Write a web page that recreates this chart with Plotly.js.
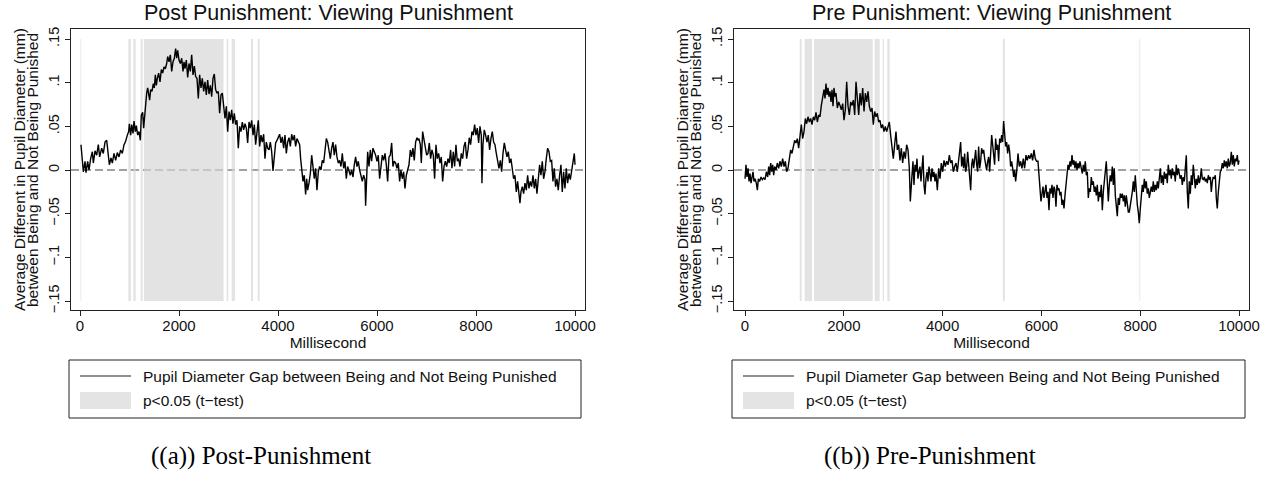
<!DOCTYPE html>
<html>
<head>
<meta charset="utf-8">
<script src="https://cdn.plot.ly/plotly-3.0.1.min.js"></script>
<style>html,body{margin:0;padding:0;background:#fff;}#chart{width:1270px;height:481px;}</style>
</head>
<body>
<div id="chart"></div>
<script>
// ---- DATA ----
const xTickVals = [0, 2000, 4000, 6000, 8000, 10000];
const xTickText = ['0', '2000', '4000', '6000', '8000', '10000'];
const yTickVals = [0.15, 0.1, 0.05, 0, -0.05, -0.1, -0.15];
const yTickText = ['.15', '.1', '.05', '0', '\u2212.05', '\u2212.1', '\u2212.15'];

const panelTitles = ['Post Punishment: Viewing Punishment', 'Pre Punishment: Viewing Punishment'];
const panelCaptions = ['((a)) Post-Punishment', '((b)) Pre-Punishment'];
const xTitle = 'Millisecond';
const yTitleLines = ['Average Different in Pupil Diameter (mm)', 'between Being and Not Being Punished'];
const legendLabels = ['Pupil Diameter Gap between Being and Not Being Punished', 'p<0.05 (t\u2212test)'];

// [millisecond, gap in mm]
const postSeries = [
[20,0.029],[47,0.013],[67,-0.002],[101,0.010],[121,-0.003],[155,0.010],[182,0.000],[215,0.013],[249,0.021],[269,0.008],
[303,0.022],[337,0.017],[370,0.029],[397,0.015],[438,0.025],[471,0.019],[505,0.032],[539,0.034],[559,0.023],[593,0.006],
[626,0.014],[653,0.008],[687,0.019],[720,0.011],[754,0.020],[788,0.015],[821,0.023],[855,0.019],[889,0.029],[922,0.033],
[956,0.040],[983,0.044],[997,0.053],[1023,0.040],[1044,0.052],[1071,0.042],[1091,0.056],[1118,0.044],[1138,0.051],[1165,0.040],
[1192,0.044],[1219,0.034],[1239,0.063],[1266,0.066],[1286,0.048],[1306,0.063],[1326,0.076],[1347,0.088],[1367,0.094],[1387,0.086],
[1407,0.080],[1427,0.092],[1454,0.090],[1481,0.099],[1501,0.094],[1522,0.109],[1542,0.097],[1562,0.105],[1589,0.111],[1616,0.101],
[1643,0.115],[1670,0.111],[1697,0.118],[1724,0.116],[1751,0.122],[1771,0.130],[1798,0.124],[1825,0.132],[1852,0.113],[1879,0.124],
[1906,0.128],[1932,0.139],[1953,0.128],[1973,0.137],[2000,0.126],[2027,0.122],[2054,0.128],[2081,0.113],[2101,0.124],[2121,0.116],
[2148,0.126],[2175,0.106],[2202,0.122],[2229,0.113],[2256,0.132],[2283,0.109],[2310,0.119],[2336,0.107],[2363,0.105],[2390,0.082],
[2417,0.109],[2444,0.094],[2471,0.105],[2498,0.090],[2525,0.101],[2552,0.086],[2579,0.103],[2606,0.087],[2633,0.097],[2660,0.084],
[2687,0.105],[2713,0.110],[2740,0.092],[2767,0.088],[2794,0.090],[2821,0.065],[2848,0.086],[2875,0.088],[2902,0.074],[2929,0.059],
[2956,0.073],[2983,0.044],[3010,0.067],[3037,0.057],[3064,0.069],[3090,0.053],[3117,0.065],[3144,0.052],[3171,0.057],[3198,0.025],
[3225,0.050],[3252,0.044],[3279,0.055],[3306,0.046],[3333,0.053],[3360,0.048],[3387,0.031],[3414,0.055],
[3441,0.048],[3468,0.057],[3495,0.040],[3522,0.052],[3548,0.029],[3575,0.048],[3602,0.057],[3629,0.027],[3656,0.040],[3683,0.032],
[3710,0.041],[3737,0.013],[3764,0.032],[3791,0.025],[3818,0.023],[3845,0.032],[3872,0.021],[3899,-0.001],[3926,0.021],[3952,0.031],
[3979,0.034],[4006,0.038],[4033,0.041],[4060,0.031],[4087,0.038],[4114,0.025],[4141,0.040],[4168,0.019],[4195,0.032],[4222,0.037],
[4249,0.027],[4276,0.041],[4303,0.034],[4330,0.040],[4356,0.027],[4383,0.036],[4410,0.032],[4437,0.029],[4457,0.013],[4478,-0.002],
[4505,-0.013],[4531,-0.006],[4558,-0.028],[4579,-0.010],[4599,-0.023],[4626,-0.015],[4653,-0.004],[4680,0.017],[4707,0.002],[4734,-0.010],
[4760,0.002],[4787,-0.023],[4814,-0.002],[4841,0.004],[4868,0.000],[4895,0.011],[4922,0.008],[4949,0.021],[4976,0.036],[5003,0.032],
[5030,0.023],[5057,0.013],[5084,0.025],[5111,0.032],[5137,0.017],[5164,0.029],[5191,0.015],[5218,0.008],[5245,0.011],[5272,0.004],
[5299,0.019],[5326,0.002],[5353,0.010],[5380,-0.010],[5407,0.004],[5434,-0.002],[5461,-0.006],[5488,0.000],[5515,-0.008],[5541,0.006],
[5568,0.015],[5595,0.004],[5622,0.010],[5649,0.000],[5676,-0.006],[5703,-0.013],[5730,-0.006],[5757,-0.011],[5770,-0.041],[5790,-0.006],
[5811,0.021],[5838,0.004],[5865,0.023],[5891,0.010],[5918,0.025],[5945,0.021],[5972,0.017],[5999,0.010],[6026,0.017],[6053,-0.010],
[6080,0.006],[6107,0.017],[6134,0.011],[6161,0.019],[6188,0.006],[6215,-0.013],[6242,0.015],[6269,0.017],[6296,0.031],[6322,0.004],
[6349,0.010],[6376,0.008],[6403,0.002],[6430,0.008],[6457,-0.013],[6484,0.000],[6511,-0.010],[6538,-0.002],[6565,-0.021],[6592,-0.006],
[6619,0.000],[6646,0.006],[6673,0.023],[6700,0.015],[6726,0.025],[6753,0.011],[6780,0.032],[6807,0.037],[6834,0.034],
[6848,0.036],[6875,0.029],[6895,0.008],[6922,0.044],[6949,0.036],[6976,0.025],[7003,0.017],[7030,0.019],[7057,0.031],[7083,0.013],
[7110,0.023],[7137,0.017],[7164,-0.010],[7191,0.029],[7218,0.013],[7245,0.019],[7272,0.008],[7299,0.015],[7326,-0.013],[7353,0.004],
[7380,0.010],[7407,0.004],[7434,0.013],[7460,0.008],[7487,0.023],[7514,0.002],[7541,0.021],[7568,0.004],[7595,0.029],[7622,0.010],
[7649,0.013],[7676,0.004],[7703,0.019],[7730,0.013],[7757,0.027],[7784,0.032],[7811,0.013],[7838,0.023],[7864,0.037],[7891,0.029],
[7918,0.044],[7945,0.040],[7972,0.052],[7999,0.040],[8026,0.048],[8053,0.031],[8080,0.050],[8107,0.040],[8120,-0.015],[8140,0.029],
[8167,0.046],[8194,0.040],[8221,0.032],[8248,0.040],[8275,0.023],[8302,0.036],[8329,0.044],[8356,0.032],[8383,0.029],[8410,0.019],
[8437,0.008],[8464,0.002],[8491,0.011],[8518,-0.002],[8545,0.019],[8572,0.031],[8598,0.023],[8625,0.015],[8652,0.021],[8679,0.008],
[8706,0.013],[8733,0.002],[8760,-0.010],[8787,-0.006],[8814,-0.025],[8841,-0.013],[8868,-0.027],[8888,-0.038],[8908,-0.025],[8935,-0.019],
[8962,-0.027],[8989,-0.015],[9016,-0.023],[9043,-0.006],[9070,-0.021],[9097,-0.013],[9124,-0.019],[9151,-0.006],[9178,-0.021],[9205,-0.010],
[9231,-0.027],[9258,-0.013],[9285,0.006],[9312,-0.006],[9339,0.010],[9366,-0.010],[9393,-0.002],[9420,0.013],[9447,0.025],[9474,0.021],
[9501,0.010],[9528,0.011],[9555,-0.013],[9581,0.002],[9608,-0.019],[9635,-0.010],[9662,-0.023],[9689,-0.006],[9716,0.006],[9743,-0.025],
[9770,-0.002],[9797,-0.021],[9824,0.002],[9851,-0.015],[9878,-0.004],[9905,-0.011],[9932,0.000],[9959,0.008],[9986,0.019],[10000,0.006]
];

const preSeries = [
[0,-0.010],[20,0.006],[40,-0.008],[61,0.002],[81,-0.013],[101,-0.004],[121,-0.015],[142,-0.006],[162,-0.002],[182,-0.013],
[202,-0.010],[229,-0.015],[250,-0.023],[270,-0.010],[297,-0.013],[324,-0.008],[351,-0.011],[378,-0.009],[405,-0.011],[432,-0.002],
[459,-0.008],[479,0.004],[499,-0.006],[520,0.008],[540,-0.002],[560,0.006],[580,-0.006],[600,0.004],[627,0.000],[654,0.008],
[681,0.002],[708,0.010],[735,0.004],[762,0.013],[789,0.004],[816,0.010],[843,-0.002],[870,0.002],[897,0.013],[924,0.023],
[951,0.019],[978,0.029],[1005,0.034],[1032,0.031],[1059,0.036],[1086,0.025],[1113,0.040],[1140,0.052],[1167,0.036],[1194,0.044],
[1221,0.059],[1248,0.053],[1275,0.061],[1302,0.055],[1329,0.059],[1356,0.052],[1383,0.061],[1410,0.057],[1437,0.066],[1464,0.055],
[1491,0.063],[1518,0.061],[1545,0.074],[1572,0.086],[1599,0.092],[1619,0.082],[1639,0.099],[1660,0.086],[1680,0.094],[1700,0.084],
[1720,0.090],[1741,0.078],[1761,0.092],[1781,0.073],[1801,0.094],[1822,0.084],[1842,0.088],[1869,0.071],[1896,0.078],[1923,0.074],
[1950,0.069],[1977,0.076],[2004,0.057],[2031,0.069],[2058,0.101],[2085,0.073],[2112,0.063],[2139,0.078],[2166,0.074],[2193,0.080],
[2220,0.063],[2247,0.101],[2274,0.076],[2301,0.063],[2328,0.088],[2355,0.074],[2382,0.094],[2409,0.067],[2436,0.088],[2463,0.078],
[2490,0.090],[2517,0.073],[2544,0.067],[2571,0.071],[2597,0.052],[2624,0.067],[2651,0.061],[2678,0.065],[2705,0.055],[2732,0.057],
[2759,0.048],[2786,0.052],[2813,0.044],[2840,0.050],[2867,0.044],[2894,0.050],[2921,0.055],[2948,0.040],[2975,0.025],[3002,0.013],
[3029,0.029],[3056,0.044],[3083,0.023],[3110,0.029],[3137,0.011],[3164,0.025],[3191,0.008],[3218,0.021],[3245,0.013],[3272,0.029],
[3299,0.023],[3326,0.002],[3346,-0.036],[3366,-0.006],
[3380,-0.006],[3400,0.010],[3420,-0.017],[3441,0.006],[3461,-0.002],[3481,0.013],[3501,-0.010],[3522,-0.002],[3542,0.004],[3562,-0.013],
[3582,0.010],[3603,0.017],[3623,-0.017],[3643,-0.028],[3663,-0.010],[3684,-0.002],[3704,-0.013],[3724,0.004],[3744,-0.004],[3765,-0.013],
[3785,0.002],[3805,-0.008],[3825,-0.002],[3846,-0.013],[3866,-0.004],[3893,-0.023],[3920,0.002],[3947,-0.010],[3974,0.008],[4001,-0.002],
[4028,0.011],[4055,0.004],[4082,0.010],[4109,0.006],[4136,0.017],[4163,0.008],[4190,0.011],[4217,-0.002],[4244,0.004],[4271,0.008],
[4298,-0.002],[4325,0.010],[4352,0.021],[4365,0.032],[4385,0.004],[4406,0.015],[4426,0.002],[4446,0.019],[4466,-0.002],[4487,0.004],
[4507,0.021],[4527,0.004],[4547,-0.013],[4568,-0.023],[4588,0.006],[4608,0.013],[4628,0.002],[4648,0.010],[4669,0.023],[4689,0.006],
[4709,-0.002],[4729,0.027],[4750,0.002],[4770,0.010],[4790,0.025],[4810,0.019],[4831,0.023],[4851,0.013],[4871,0.006],[4891,0.000],
[4912,0.010],[4932,0.015],[4952,-0.002],[4972,0.023],[4993,0.040],[5013,0.029],[5033,0.017],[5053,0.006],[5073,0.036],[5094,0.023],
[5114,0.029],[5134,0.010],[5154,0.036],[5175,0.031],[5195,0.040],[5215,0.032],[5235,0.056],[5256,0.040],[5276,0.027],[5296,0.032],
[5316,0.019],[5337,0.029],[5357,0.021],[5377,0.004],[5397,0.010],[5418,0.002],[5438,-0.008],[5458,0.000],[5478,-0.013],[5499,-0.002],
[5526,0.019],[5552,0.004],[5579,0.010],[5606,0.002],[5633,0.013],[5660,0.002],[5687,0.017],[5714,0.011],[5741,0.017],[5768,0.013],
[5795,0.019],[5822,0.011],[5849,0.023],[5876,0.013],[5903,0.010],[5930,0.010],[5951,-0.002],[5971,-0.021],[5991,-0.036],[6011,-0.027],
[6032,-0.019],[6052,-0.032],[6072,-0.021],[6092,-0.017],[6113,-0.032],[6133,-0.025],[6153,-0.046],[6173,-0.021],[6193,-0.027],[6214,-0.017],
[6234,-0.032],[6254,-0.019],[6274,-0.023],[6295,-0.042],[6315,-0.017],[6335,-0.023],[6355,-0.021],[6376,-0.029],[6396,-0.025],[6416,-0.040],
[6436,-0.034],[6457,-0.044],[6477,-0.029],[6497,-0.013],[6517,-0.006],[6538,0.006],[6558,0.000],[6578,0.010],[6598,0.004],[6619,0.017],
[6639,0.006],[6659,0.011],[6679,0.002],[6699,0.010],[6720,0.000],[6740,0.008],[6760,0.002],[6780,0.010],[6807,0.000],
[6828,-0.004],[6848,0.006],[6868,-0.002],[6888,0.010],[6909,-0.006],[6929,-0.002],[6949,-0.032],[6969,-0.021],[6990,-0.025],[7010,-0.008],
[7030,-0.017],[7050,-0.013],[7071,-0.025],[7091,-0.019],[7111,-0.029],[7131,-0.017],[7152,-0.036],[7172,-0.025],[7192,-0.031],[7212,-0.017],
[7233,-0.046],[7253,-0.025],[7273,-0.013],[7293,-0.004],[7313,0.010],[7334,-0.013],[7354,-0.036],[7374,-0.017],[7394,-0.006],[7415,-0.013],
[7435,0.004],[7455,-0.017],[7475,0.002],[7496,-0.029],[7516,-0.040],[7536,-0.053],[7556,-0.032],[7577,-0.040],[7597,-0.027],[7617,-0.032],
[7637,-0.027],[7658,-0.036],[7678,-0.029],[7698,-0.042],[7718,-0.029],[7739,-0.038],[7759,-0.048],[7779,-0.048],[7799,-0.040],[7820,-0.036],
[7840,-0.025],[7860,-0.013],[7880,-0.025],[7900,-0.006],[7921,-0.032],[7941,-0.040],[7961,-0.048],[7981,-0.061],[8002,-0.044],[8022,-0.032],
[8042,-0.017],[8062,-0.025],[8083,-0.010],[8103,-0.021],[8123,-0.013],[8143,-0.027],[8164,-0.021],[8184,-0.032],[8204,-0.025],[8224,-0.019],
[8245,-0.025],[8265,-0.013],[8285,-0.025],[8305,-0.017],[8326,-0.023],[8346,-0.013],[8366,-0.021],[8386,-0.008],[8407,0.002],[8427,-0.015],
[8447,-0.006],[8467,-0.017],[8487,-0.002],[8508,-0.010],[8528,-0.004],[8548,-0.015],[8568,0.006],[8589,-0.006],[8609,0.000],[8629,-0.010],
[8649,0.002],[8670,-0.006],[8690,-0.002],[8710,-0.013],[8730,0.006],[8751,-0.006],[8771,0.002],[8791,-0.004],[8811,-0.010],[8832,-0.006],
[8852,-0.017],[8872,-0.008],[8892,-0.013],[8913,0.002],[8933,0.017],[8953,-0.025],[8973,-0.044],[8993,-0.013],[9014,-0.027],[9034,-0.006],
[9054,-0.017],[9074,0.006],[9095,-0.010],[9115,-0.021],[9135,-0.010],[9155,-0.017],[9176,-0.006],[9196,-0.015],[9216,-0.010],[9236,0.002],
[9257,-0.010],[9277,-0.011],[9297,-0.008],[9317,-0.013],[9338,-0.010],[9358,-0.015],[9378,-0.006],[9398,-0.011],[9419,-0.008],[9439,-0.025],
[9459,-0.013],[9479,-0.008],[9500,-0.010],[9520,-0.006],[9540,-0.032],[9560,-0.044],[9581,-0.025],[9601,-0.013],[9621,-0.002],[9641,0.000],
[9661,0.008],[9682,0.002],[9702,0.011],[9722,0.004],[9742,0.010],[9763,0.002],[9783,0.013],[9803,0.004],[9823,0.008],[9844,0.021],
[9864,0.006],[9884,0.017],[9904,0.004],[9925,0.013],[9945,0.010],[9965,0.017],[9985,0.006],[10000,0.011]
];

// significance windows (p<0.05), milliseconds
const postSigStart = [10, 976, 1077, 1225, 1290, 2963, 3064, 3454, 3590];
const postSigEnd   = [25, 1030, 1125, 1265, 2900, 2996, 3131, 3495, 3630];
const preSigStart  = [1107, 1208, 1397, 2625, 2787, 2880, 5220, 7985];
const preSigEnd    = [1148, 1356, 2585, 2726, 2813, 2929, 5260, 8000];
const sigLow = -0.15, sigHigh = 0.15;

// ---- LAYOUT / STYLE ----
const W = 1270, H = 481;
const px = v => v / W;
const py = v => 1 - v / H;
const FONT = 'Liberation Sans, Arial, sans-serif';
const SERIF = 'Liberation Serif, DejaVu Serif, serif';
const TXT = '#111';
const BAND = 'rgba(214,214,214,0.68)';

const panels = [
  {series: postSeries, s0: postSigStart, s1: postSigEnd, xa: 'x', ya: 'y', left: 71, right: 585, xmin: -182, cap: 261},
  {series: preSeries,  s0: preSigStart,  s1: preSigEnd,  xa: 'x2', ya: 'y2', left: 734, right: 1249, xmin: -223, cap: 930}
];

const traces = [];
const shapes = [];
const annotations = [];

panels.forEach((p, i) => {
  traces.push({
    type: 'scatter', mode: 'lines',
    x: p.series.map(d => d[0]), y: p.series.map(d => d[1]),
    xaxis: p.xa, yaxis: p.ya,
    line: {color: '#000', width: 1.4},
    name: legendLabels[0], showlegend: false, hoverinfo: 'skip'
  });
  // zero reference line
  shapes.push({type: 'line', xref: p.xa + ' domain', yref: p.ya, x0: 0, x1: 1, y0: 0, y1: 0,
    line: {color: '#444', width: 1.2, dash: '8px,4px'}, layer: 'below'});
  // significance bands
  p.s0.forEach((s, k) => {
    shapes.push({type: 'rect', xref: p.xa, yref: p.ya, x0: s, x1: p.s1[k], y0: sigLow, y1: sigHigh,
      fillcolor: BAND, line: {width: 0}, layer: 'below'});
  });
  const cx = (p.left + p.right) / 2;
  annotations.push({text: panelTitles[i], xref: 'paper', yref: 'paper', x: px(cx), y: py(13),
    xanchor: 'center', yanchor: 'middle', showarrow: false, font: {family: FONT, size: 21.5, color: TXT}});
  // y axis title (two lines)
  annotations.push({text: yTitleLines[0], xref: 'paper', yref: 'paper', x: px(p.left - 52), y: py(170),
    xanchor: 'center', yanchor: 'middle', textangle: -90, showarrow: false, font: {family: FONT, size: 15.5, color: TXT}});
  annotations.push({text: yTitleLines[1], xref: 'paper', yref: 'paper', x: px(p.left - 39), y: py(170),
    xanchor: 'center', yanchor: 'middle', textangle: -90, showarrow: false, font: {family: FONT, size: 15.5, color: TXT}});
  // legend box
  const lx0 = p.left - 2, lx1 = p.right - 4, ly0 = 360, ly1 = 418;
  shapes.push({type: 'rect', xref: 'paper', yref: 'paper', x0: px(lx0), x1: px(lx1), y0: py(ly0), y1: py(ly1),
    line: {color: '#222', width: 1}, fillcolor: '#fff'});
  shapes.push({type: 'line', xref: 'paper', yref: 'paper', x0: px(lx0 + 11), x1: px(lx0 + 62), y0: py(376), y1: py(376),
    line: {color: '#222', width: 1.2}});
  shapes.push({type: 'rect', xref: 'paper', yref: 'paper', x0: px(lx0 + 11), x1: px(lx0 + 62), y0: py(392), y1: py(409),
    line: {width: 0}, fillcolor: '#e4e4e4'});
  annotations.push({text: legendLabels[0], xref: 'paper', yref: 'paper', x: px(lx0 + 72), y: py(376),
    xanchor: 'left', yanchor: 'middle', showarrow: false, font: {family: FONT, size: 15.5, color: TXT}});
  annotations.push({text: legendLabels[1], xref: 'paper', yref: 'paper', x: px(lx0 + 72), y: py(400),
    xanchor: 'left', yanchor: 'middle', showarrow: false, font: {family: FONT, size: 15.5, color: TXT}});
  annotations.push({text: panelCaptions[i], xref: 'paper', yref: 'paper', x: px(p.cap), y: py(456),
    xanchor: 'center', yanchor: 'middle', showarrow: false, font: {family: SERIF, size: 25, color: '#000'}});
});

function xAxis(p) {
  return {
    domain: [px(p.left), px(p.right)], range: [p.xmin, 10202],
    tickvals: xTickVals, ticktext: xTickText, ticks: 'outside', ticklen: 5, tickwidth: 1, tickcolor: '#222',
    ticklabelstandoff: -3,
    showline: true, mirror: true, linecolor: '#222', linewidth: 1,
    showgrid: false, zeroline: false, fixedrange: true,
    tickfont: {family: FONT, size: 15, color: TXT},
    title: {text: xTitle, font: {family: FONT, size: 15.5, color: TXT}, standoff: 0}
  };
}
function yAxis() {
  return {
    domain: [py(310), py(29)], range: [-0.1603, 0.1615],
    tickvals: yTickVals, ticktext: yTickText, tickangle: -90,
    ticks: 'outside', ticklen: 5, tickwidth: 1, tickcolor: '#222',
    showline: true, mirror: true, linecolor: '#222', linewidth: 1,
    showgrid: false, zeroline: false, fixedrange: true,
    tickfont: {family: FONT, size: 14.5, color: TXT}
  };
}

const layout = {
  width: W, height: H, margin: {l: 0, r: 0, t: 0, b: 0},
  paper_bgcolor: '#fff', plot_bgcolor: '#fff', showlegend: false,
  xaxis: Object.assign(xAxis(panels[0]), {anchor: 'y'}),
  yaxis: Object.assign(yAxis(), {anchor: 'x'}),
  xaxis2: Object.assign(xAxis(panels[1]), {anchor: 'y2'}),
  yaxis2: Object.assign(yAxis(), {anchor: 'x2'}),
  shapes: shapes, annotations: annotations
};

Plotly.newPlot('chart', traces, layout, {staticPlot: true, displayModeBar: false});
</script>
</body>
</html>
